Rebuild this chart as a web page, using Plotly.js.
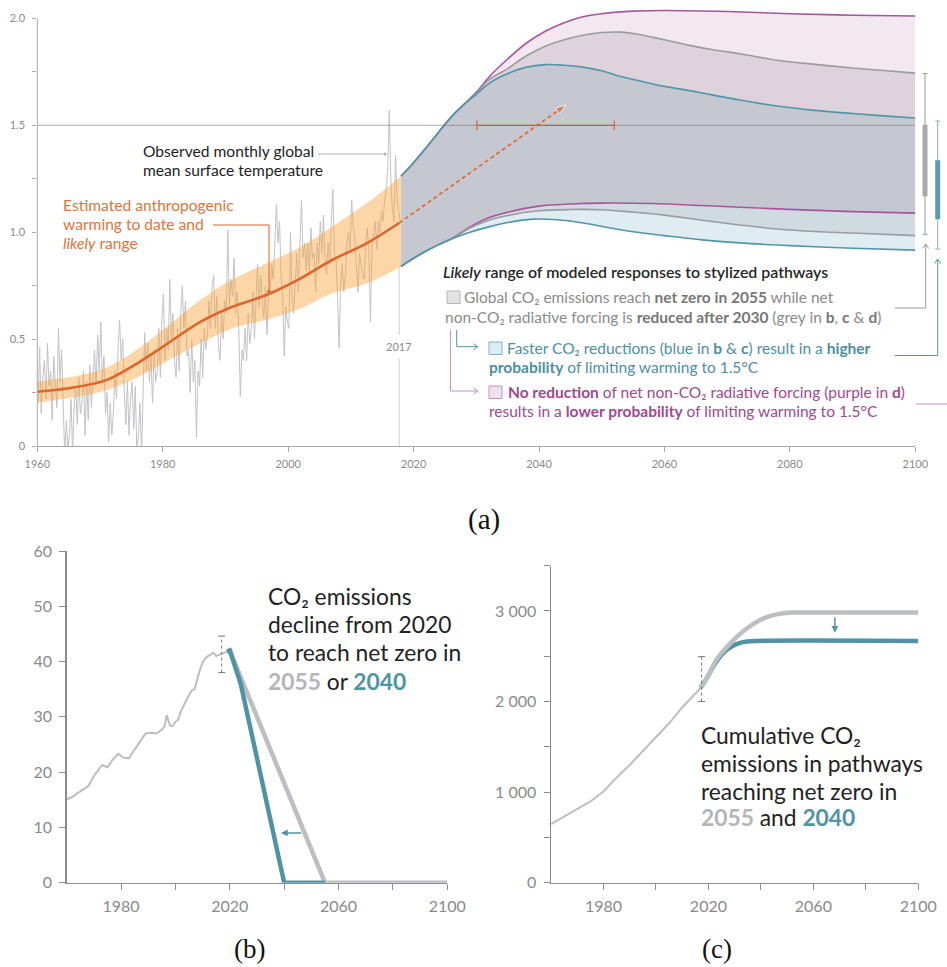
<!DOCTYPE html>
<html><head><meta charset="utf-8">
<script src="https://cdn.plot.ly/plotly-3.0.1.min.js"></script>
<style>body{margin:0;background:#fff}#chart{width:947px;height:967px}</style>
</head><body><div id="chart"></div>
<script>
// ---------- Panel (a): temperature ----------
const obsStart = 1960; // quarterly observed GMST anomalies (°C), 1960..2017
const obsTemp = [
 0.20,0.46,0.15,0.32, 0.40,0.22,0.48,0.28, 0.35,0.12,0.42,0.30, 0.18,0.55,0.30,0.45,
 0.10,-0.05,0.12,-0.02, 0.05,0.22,-0.03,0.18, 0.28,0.10,0.32,0.15, 0.20,0.35,0.05,0.30,
 0.12,0.38,0.18,0.30, 0.45,0.28,0.52,0.35, 0.58,0.30,0.42,0.15, 0.25,0.02,0.20,0.05,
 0.15,0.35,0.22,0.45, 0.59,0.40,0.50,0.25, 0.10,0.30,0.05,0.22, 0.30,0.08,0.28,-0.02,
 0.05,0.20,-0.03,0.25, 0.53,0.35,0.48,0.30, 0.42,0.20,0.45,0.30, 0.35,0.55,0.32,0.60,
 0.71,0.40,0.55,0.45, 0.78,0.50,0.62,0.40, 0.32,0.55,0.35,0.62, 0.75,0.55,0.68,0.42,
 0.45,0.25,0.50,0.30, 0.40,0.04,0.35,0.28, 0.50,0.32,0.55,0.45, 0.52,0.68,0.55,0.75,
 0.80,0.55,0.70,0.48, 0.40,0.62,0.50,0.68, 0.62,1.01,0.65,0.78, 0.70,0.88,0.62,0.72,
 0.55,0.23,0.45,0.40, 0.55,0.40,0.62,0.48, 0.55,0.72,0.50,0.68, 0.85,0.65,0.80,0.68,
 0.60,0.75,0.52,0.70, 0.72,0.85,0.78,0.95, 1.13,0.95,1.05,0.80, 0.70,0.42,0.65,0.58,
 0.55,1.00,0.70,0.62, 0.78,0.90,0.72,0.95, 1.15,0.88,0.95,0.82, 0.95,0.80,1.02,0.88,
 0.90,0.72,0.95,0.85, 1.05,0.90,1.08,0.88, 0.80,0.95,0.85,1.05, 1.20,0.90,0.88,0.70,
 0.46,0.75,0.85,0.72, 0.80,0.95,1.00,0.92, 1.15,1.02,0.98,0.85, 0.72,0.90,0.85,0.80,
 0.78,0.95,1.02,0.90, 0.58,0.95,1.00,1.05, 0.92,1.05,1.00,1.10, 1.05,1.15,1.20,1.30,
 1.57,1.25,1.10,1.05, 1.36,1.15,1.10,1.05
];
const obsYears = obsTemp.map((_, i) => obsStart + (i + 0.5) / 4);

const trendYears = [1960,1965,1971,1975,1980,1986,1991,1996.5,2002,2007,2012.5,2017.7];
const trendVals  = [0.254,0.27,0.308,0.37,0.464,0.58,0.65,0.706,0.784,0.87,0.948,1.043];
const bandYears  = [1960,1970,1975,1980,1986,1991,1996.5,2002,2007,2012.5,2018];
const bandUpper  = [0.30,0.355,0.433,0.542,0.683,0.776,0.854,0.932,1.026,1.135,1.262];
const bandLower  = [0.203,0.253,0.308,0.386,0.48,0.55,0.59,0.643,0.714,0.76,0.84];

const upCommonYears = [2018,2020,2022,2024,2026,2028];
const upCommonVals  = [1.262,1.325,1.395,1.468,1.539,1.597];
const loCommonYears = [2018,2020,2022,2024,2026];
const loCommonVals  = [0.84,0.878,0.912,0.942,0.968];

const purpleUpYears = [2030,2032,2035,2038,2041,2044,2047,2050,2055,2060,2070,2080,2090,2100];
const purpleUpVals  = [1.655,1.725,1.81,1.885,1.94,1.98,2.008,2.022,2.034,2.037,2.032,2.022,2.015,2.011];
const greyUpYears   = [2030,2032,2035,2038,2041,2044,2047,2050,2053,2056,2060,2064,2068,2072,2078,2084,2090,2095,2100];
const greyUpVals    = [1.65,1.712,1.765,1.825,1.87,1.9,1.921,1.934,1.936,1.925,1.9,1.874,1.852,1.835,1.804,1.785,1.768,1.756,1.744];
const blueUpYears   = [2030,2032,2035,2038,2041,2044,2047,2050,2053,2056,2060,2064,2068,2072,2078,2084,2090,2095,2100];
const blueUpVals    = [1.645,1.695,1.742,1.772,1.784,1.781,1.772,1.755,1.728,1.708,1.682,1.662,1.64,1.618,1.59,1.57,1.555,1.544,1.534];

const blueLoYears   = [2029,2032,2035,2039,2043,2047,2051,2055,2060,2066,2072,2078,2084,2090,2100];
const blueLoVals    = [1.0,1.025,1.045,1.061,1.058,1.043,1.022,1.002,0.984,0.964,0.95,0.94,0.932,0.925,0.916];
const greyLoYears   = [2029,2032,2035,2040,2045,2050,2055,2060,2066,2072,2078,2084,2090,2100];
const greyLoVals    = [1.02,1.056,1.078,1.1,1.106,1.105,1.094,1.08,1.056,1.034,1.015,1.003,0.996,0.984];
const purpleLoYears = [2029,2032,2035,2040,2045,2050,2058,2066,2078,2090,2100];
const purpleLoVals  = [1.025,1.068,1.093,1.122,1.132,1.136,1.134,1.125,1.109,1.096,1.089];

const arrowYears = [2017.7, 2044.3];
const arrowVals  = [1.043, 1.595];
const crossYears = [2030.1, 2052.0];   // range when 1.5°C is crossed
const yearMark = 2017.7;

const greyRange2100 = [0.99, 1.742], greyCore2100 = [1.168, 1.503];
const blueRange2100 = [0.921, 1.52], blueCore2100 = [1.061, 1.336];

// ---------- Panel (b): CO2 emissions ----------
const emisYears = [1960,1962,1964,1966,1968,1970,1972,1973,1975,1977,1979,1981,1983,1984,1986,1988,1989,1991,1993,1995,1996,1996.8,1998,1999,2000,2001,2002,2004,2006,2007,2008,2009,2010,2011,2012,2013,2014,2015,2016,2017,2019];
const emisVals  = [15.1,15.5,16.2,16.9,17.5,19.3,20.7,21.3,20.9,22.3,23.3,22.6,22.5,23.4,24.8,26.3,27.0,27.1,27.0,27.7,28.3,30.3,28.4,28.3,29.1,29.5,31.0,33.0,34.8,35.0,37.0,38.5,39.8,40.6,41.0,41.3,41.6,41.0,41.2,41.5,41.8];
const path2055Years = [2019, 2020, 2055, 2100];
const path2055Vals  = [41.8, 42, 0, 0];
const path2040Years = [2019, 2020, 2024, 2040, 2055];
const path2040Vals  = [41.8, 42, 36, 0, 0];
const emisErr = [38.0, 44.6];
const emisErrYear = 2017;
const emisArrowY = 9, emisArrowFrom = 2046.8, emisArrowTo = 2038.8;

// ---------- Panel (c): cumulative CO2 ----------
const cumYears = [1960,1965,1970,1975,1980,1985,1990,1995,2000,2005,2010,2015,2018];
const cumVals  = [647,730,815,897,1007,1160,1300,1450,1605,1760,1935,2090,2180];
const cum2055Years = [2017,2020,2023,2027,2031,2035,2039,2043,2047,2052,2060,2100];
const cum2055Vals  = [2150,2290,2460,2600,2720,2815,2890,2940,2968,2982,2982,2982];
const cum2040Years = [2017,2020,2023,2026,2029,2032,2035,2038,2100];
const cum2040Vals  = [2150,2290,2440,2545,2610,2648,2663,2669,2669];
const cumErr = [2000, 2496];
const cumErrYear = 2017.4;
const cumArrowX = 2068.2, cumArrowFrom = 2945, cumArrowTo = 2761;

// ---------- helpers ----------
const W = 947, H = 967;
const px = x => x / W, py = y => 1 - y / H;
const FONT = 'Lato, "Noto Sans", sans-serif';
const C = {
  orange:'#e0652c', orangeText:'#e3733a', band:'rgba(248,164,57,0.45)', obs:'#c2c2c7',
  purple:'#a9559b', grey:'#9b9ba0', blue:'#5096aa',
  fBlue:'#dfedf2', fGreyBlue:'#cfdbe1', fCenter:'#c5c8d1', fMauve:'#ded3dc', fPink:'#f3e8f0',
  gTxt:'#8a8a8a', gBold:'#777777', bTxt:'#4d8fa2', pTxt:'#a2488f', pLine:'#c88fc0',
  bThick:'#4f93a5', gThick:'#bdbec2'
};
const cat = (a, b) => a.concat(b);

const traces = [];
traces.push({x: obsYears, y: obsTemp, mode:'lines', line:{color:C.obs, width:1}, xaxis:'x', yaxis:'y', hoverinfo:'skip'});
traces.push({x: bandYears, y: bandLower, mode:'lines', line:{width:0, shape:'spline'}, xaxis:'x', yaxis:'y', hoverinfo:'skip'});
traces.push({x: bandYears, y: bandUpper, mode:'lines', line:{width:0, shape:'spline'}, fill:'tonexty', fillcolor:C.band, xaxis:'x', yaxis:'y', hoverinfo:'skip'});
traces.push({x: trendYears, y: trendVals, mode:'lines', line:{color:C.orange, width:2.6, shape:'spline'}, xaxis:'x', yaxis:'y', hoverinfo:'skip'});
const bLoX = cat(loCommonYears, blueLoYears),   bLoY = cat(loCommonVals, blueLoVals);
const gLoX = cat(loCommonYears, greyLoYears),   gLoY = cat(loCommonVals, greyLoVals);
const pLoX = cat(loCommonYears, purpleLoYears), pLoY = cat(loCommonVals, purpleLoVals);
const bUpX = cat(upCommonYears, blueUpYears),   bUpY = cat(upCommonVals, blueUpVals);
const gUpX = cat(upCommonYears, greyUpYears),   gUpY = cat(upCommonVals, greyUpVals);
const pUpX = cat(upCommonYears, purpleUpYears), pUpY = cat(upCommonVals, purpleUpVals);
const fillSeq = [[bLoX,bLoY,null],[gLoX,gLoY,C.fBlue],[pLoX,pLoY,C.fGreyBlue],[bUpX,bUpY,C.fCenter],[gUpX,gUpY,C.fMauve],[pUpX,pUpY,C.fPink]];
fillSeq.forEach(([x,y,fc]) => {
  const t = {x, y, mode:'lines', line:{width:0, shape:'spline'}, xaxis:'x', yaxis:'y', hoverinfo:'skip'};
  if (fc) { t.fill = 'tonexty'; t.fillcolor = fc; }
  traces.push(t);
});
[[pLoX,pLoY,C.purple],[pUpX,pUpY,C.purple],[gLoX,gLoY,C.grey],[gUpX,gUpY,C.grey],[bLoX,bLoY,C.blue],[bUpX,bUpY,C.blue]].forEach(([x,y,c]) => {
  traces.push({x, y, mode:'lines', line:{color:c, width:1.6, shape:'spline'}, xaxis:'x', yaxis:'y', hoverinfo:'skip'});
});
traces.push({x:[yearMark, yearMark, null, yearMark, yearMark], y:[0, 0.41, null, 0.52, 0.84], mode:'lines', line:{color:'#cfcfcf', width:1}, xaxis:'x', yaxis:'y', hoverinfo:'skip'});
traces.push({x: crossYears, y:[1.5, 1.5], mode:'lines+markers', line:{color:C.orange, width:1.2}, marker:{symbol:'line-ns', size:7, line:{color:C.orange, width:1.2}}, xaxis:'x', yaxis:'y', hoverinfo:'skip'});
traces.push({x: arrowYears, y: arrowVals, mode:'lines+markers', line:{color:C.orange, width:1.6, dash:'4px,3px'}, marker:{symbol:['circle','arrow'], size:[10,11], color:C.orange, angleref:'previous'}, xaxis:'x', yaxis:'y', hoverinfo:'skip'});

// ---- Panel (b)
traces.push({x: emisYears, y: emisVals, mode:'lines', line:{color:C.gThick, width:2}, xaxis:'x2', yaxis:'y2', hoverinfo:'skip'});
traces.push({x: path2055Years, y: path2055Vals, mode:'lines', line:{color:C.gThick, width:4.5}, xaxis:'x2', yaxis:'y2', hoverinfo:'skip'});
traces.push({x: path2040Years, y: path2040Vals, mode:'lines', line:{color:C.bThick, width:4.5}, xaxis:'x2', yaxis:'y2', hoverinfo:'skip'});
traces.push({x:[emisErrYear, emisErrYear], y: emisErr, mode:'lines+markers', line:{color:'#777', width:1, dash:'dot'}, marker:{symbol:'line-ew', size:5, line:{color:'#777', width:1}}, xaxis:'x2', yaxis:'y2', hoverinfo:'skip'});

// ---- Panel (c)
traces.push({x: cumYears, y: cumVals, mode:'lines', line:{color:C.gThick, width:2}, xaxis:'x3', yaxis:'y3', hoverinfo:'skip'});
traces.push({x: cum2040Years, y: cum2040Vals, mode:'lines', line:{color:C.bThick, width:4.5, shape:'spline'}, xaxis:'x3', yaxis:'y3', hoverinfo:'skip'});
traces.push({x: cum2055Years, y: cum2055Vals, mode:'lines', line:{color:C.gThick, width:4.5, shape:'spline'}, xaxis:'x3', yaxis:'y3', hoverinfo:'skip'});
traces.push({x:[cumErrYear, cumErrYear], y: cumErr, mode:'lines+markers', line:{color:'#777', width:1, dash:'dot'}, marker:{symbol:'line-ew', size:5, line:{color:'#777', width:1}}, xaxis:'x3', yaxis:'y3', hoverinfo:'skip'});

// ---------- layout ----------
const axA = {showgrid:false, zeroline:false, showline:true, linecolor:'#a8a8a8', linewidth:1, ticks:'outside', tickcolor:'#a8a8a8', tickfont:{family:FONT, size:11, color:'#8a8a8a'}, fixedrange:true};
const axB = {showgrid:false, zeroline:false, showline:true, linecolor:'#8c8c8c', linewidth:1.5, ticks:'outside', tickcolor:'#8c8c8c', ticklen:6, tickfont:{family:FONT, size:16, color:'#8a8a8a'}, fixedrange:true};
const aYT = [0,0.25,0.5,0.75,1,1.25,1.5,1.75,2];
const aYL = ['0','','0.5','','1.0','','1.5','','2.0'];
const bXT = [1980,2000,2020,2040,2060,2080,2100];
const bXL = ['1980','','2020','','2060','','2100'];

const shapes = [];
const seg = (x0,y0,x1,y1,color,width) => shapes.push({type:'line', xref:'paper', yref:'paper', x0:px(x0), y0:py(y0), x1:px(x1), y1:py(y1), line:{color, width}});
const pathP = (pts, color, width) => shapes.push({type:'path', xref:'paper', yref:'paper', path: pts.map((p,i)=>(i?'L':'M')+px(p[0])+','+py(p[1])).join(' '), line:{color, width}});
const dot = (x,y,r,color) => shapes.push({type:'circle', xref:'paper', yref:'paper', x0:px(x-r), x1:px(x+r), y0:py(y+r), y1:py(y-r), fillcolor:color, line:{width:0}});
const rectP = (x0,y0,x1,y1,fill,stroke) => shapes.push({type:'rect', xref:'paper', yref:'paper', x0:px(x0), x1:px(x1), y0:py(y1), y1:py(y0), fillcolor:fill, line:{color:stroke, width:1}});

shapes.push({type:'line', xref:'paper', yref:'y', x0:px(37.3), x1:px(37.3), y0:0, y1:2, line:{color:'#a8a8a8', width:1}});
shapes.push({type:'line', xref:'x', yref:'y', x0:1960, x1:2100, y0:1.5, y1:1.5, line:{color:'rgba(110,110,110,0.55)', width:1}, layer:'above'});
const vbar = (xp, rng, color, width, caps) => {
  shapes.push({type:'line', xref:'paper', yref:'y', x0:px(xp), x1:px(xp), y0:rng[0], y1:rng[1], line:{color, width}});
  if (caps) rng.forEach(v => shapes.push({type:'line', xref:'paper', yref:'y', x0:px(xp-2.5), x1:px(xp+2.5), y0:v, y1:v, line:{color, width:1}}));
};
vbar(925, greyRange2100, '#9a9a9a', 1, true);
vbar(925, greyCore2100, '#a9a9ab', 5, false);
vbar(937.7, blueRange2100, '#7fb3c3', 1, true);
vbar(937.7, blueCore2100, '#5a9bb0', 5, false);

seg(318,154,383,154,'#b0b0b0',1); dot(385,154,1.6,'#b0b0b0');
pathP([[213,225],[269,225],[269,290]], C.orange, 1); dot(269,291.5,1.8,C.orange);
pathP([[456.7,330],[456.7,346.7],[477.6,346.7]], C.blue, 1);
pathP([[473.5,343.7],[477.6,346.7],[473.5,349.7]], C.blue, 1);
pathP([[450.5,330],[450.5,391],[477.6,391]], C.pLine, 1);
pathP([[473.5,388],[477.6,391],[473.5,394]], C.pLine, 1);
pathP([[895,308],[925.7,308],[925.7,244]], '#9a9a9a', 1);
pathP([[922.7,248.5],[925.7,244],[928.7,248.5]], '#9a9a9a', 1);
pathP([[895,355.5],[937.7,355.5],[937.7,259]], C.blue, 1);
pathP([[934.7,263.5],[937.7,259],[940.7,263.5]], C.blue, 1);
seg(916,404,947,404,C.pLine,1);
rectP(447,291,460,303.5,'#e2e2e2','#b5b5b5');
rectP(489,342,502,354.5,'#dcecf1','#7fb3c3');
rectP(489,386,502,398.5,'#f1e0ee','#c88fc0');

const annotations = [];
const txt = (x, y, text, size, color, extra) => annotations.push(Object.assign({xref:'paper', yref:'paper', x:px(x), y:py(y), xanchor:'left', yanchor:'middle', showarrow:false, text, align:'left', font:{family:FONT, size, color}}, extra||{}));
const sp = (c, s) => `<span style="color:${c}">${s}</span>`;

txt(141, 151, 'Observed monthly global', 15.6, '#1e1e1e');
txt(141, 169.5, 'mean surface temperature', 15.6, '#1e1e1e');
txt(61, 205, 'Estimated anthropogenic', 15.6, C.orangeText);
txt(61, 224, 'warming to date and', 15.6, C.orangeText);
txt(61, 243, '<i>likely</i> range', 15.6, C.orangeText);
annotations.push({xref:'paper', yref:'paper', x:px(441), y:py(272), xanchor:'left', yanchor:'middle', showarrow:false, text:'<i>Likely</i> range of modeled responses to stylized pathways', font:{family:FONT, size:15.9, color:'#262626', weight:600}});
txt(462, 297.5, 'Global CO₂ emissions reach ' + sp(C.gBold,'<b>net zero in 2055</b>') + ' while net', 15.5, C.gTxt);
txt(443, 316.5, 'non-CO₂ radiative forcing is ' + sp(C.gBold,'<b>reduced after 2030</b>') + ' (grey in ' + sp(C.gBold,'<b>b</b>') + ', ' + sp(C.gBold,'<b>c</b>') + ' &amp; ' + sp(C.gBold,'<b>d</b>') + ')', 15.5, C.gTxt);
txt(505, 348, 'Faster CO₂ reductions (blue in <b>b</b> &amp; <b>c</b>) result in a <b>higher</b>', 15.5, C.bTxt);
txt(487, 367, '<b>probability</b> of limiting warming to 1.5°C', 15.5, C.bTxt);
txt(506, 392, '<b>No reduction</b> of net non-CO₂ radiative forcing (purple in <b>d</b>)', 15.5, C.pTxt);
txt(487, 411, 'results in a <b>lower probability</b> of limiting warming to 1.5°C', 15.5, C.pTxt);
annotations.push({xref:'x', yref:'y', x:yearMark, y:0.465, text:'2017', showarrow:false, font:{family:FONT, size:11, color:'#8a8a8a'}});

txt(265.5, 595.7, 'CO₂ emissions', 22.8, '#222');
txt(265.5, 624, 'decline from 2020', 22.8, '#222');
txt(265.5, 652.3, 'to reach net zero in', 22.8, '#222');
txt(265.5, 680.7, sp('#b4b5b9','<b>2055</b>') + ' or ' + sp(C.bThick,'<b>2040</b>'), 22.8, '#222');
txt(699, 735, 'Cumulative CO₂', 22.8, '#222');
txt(699, 763.3, 'emissions in pathways', 22.8, '#222');
txt(699, 790.7, 'reaching net zero in', 22.8, '#222');
txt(699, 817.3, sp('#b4b5b9','<b>2055</b>') + ' and ' + sp(C.bThick,'<b>2040</b>'), 22.8, '#222');
annotations.push({xref:'x2', yref:'y2', axref:'x2', ayref:'y2', x:emisArrowTo, y:emisArrowY, ax:emisArrowFrom, ay:emisArrowY, text:'', showarrow:true, arrowhead:2, arrowsize:0.9, arrowwidth:1.5, arrowcolor:C.bThick, font:{size:1}});
annotations.push({xref:'x3', yref:'y3', axref:'x3', ayref:'y3', x:cumArrowX, y:cumArrowTo, ax:cumArrowX, ay:cumArrowFrom, text:'', showarrow:true, arrowhead:2, arrowsize:0.9, arrowwidth:1.5, arrowcolor:C.bThick, font:{size:1}});
const lab = (x, y, t, s) => annotations.push({xref:'paper', yref:'paper', x:px(x), y:py(y), xanchor:'center', yanchor:'middle', showarrow:false, borderpad:0, text:t, font:{family:'"Liberation Serif", "DejaVu Serif", serif', size:s, color:'#111'}});
lab(484, 519, '(a)', 29); lab(250, 949, '(b)', 27); lab(717, 949, '(c)', 27);

const layout = {
  width: W, height: H, margin:{l:0, r:0, t:0, b:0}, paper_bgcolor:'#fff', plot_bgcolor:'rgba(0,0,0,0)', showlegend:false,
  xaxis: Object.assign({}, axA, {domain:[px(37.3), px(915.3)], range:[1960,2100], anchor:'y', tickvals:[1960,1980,2000,2020,2040,2060,2080,2100], ticklen:5, ticklabelstandoff:3}),
  yaxis: Object.assign({}, axA, {showline:false, domain:[py(446), py(446 - 2.06*213.8)], range:[0,2.06], anchor:'x', tickvals:aYT, ticktext:aYL, ticklen:4, ticklabelstandoff:5}),
  xaxis2: Object.assign({}, axB, {domain:[px(66.7), px(447.3)], range:[1960,2100], anchor:'y2', tickvals:bXT, ticktext:bXL, ticklabelstandoff:3}),
  yaxis2: Object.assign({}, axB, {domain:[py(882.7), py(551)], range:[0,60], anchor:'x2', tickvals:[0,10,20,30,40,50,60], ticklabelstandoff:4}),
  xaxis3: Object.assign({}, axB, {domain:[px(551), px(918.3)], range:[1960,2100], anchor:'y3', tickvals:bXT, ticktext:bXL, ticklabelstandoff:3}),
  yaxis3: Object.assign({}, axB, {domain:[py(882.7), py(565.7)], range:[0,3500], anchor:'x3', tickvals:[0,500,1000,1500,2000,2500,3000,3500], ticktext:['0','','1 000','','2 000','','3 000',''], ticklabelstandoff:4}),
  shapes, annotations
};
Plotly.newPlot('chart', traces, layout, {displayModeBar:false, staticPlot:true});
</script></body></html>
